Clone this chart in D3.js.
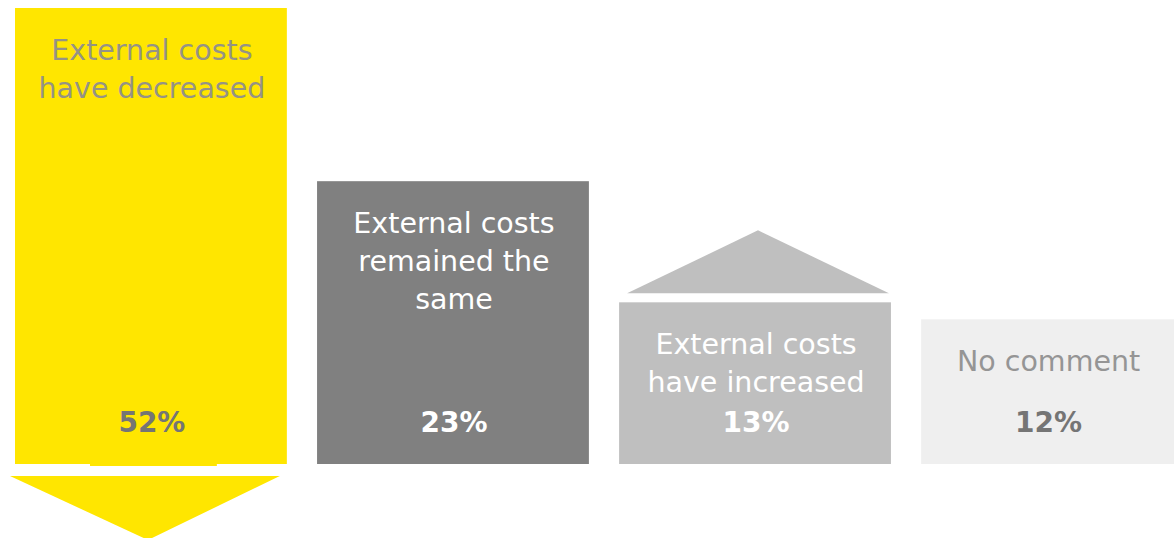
<!DOCTYPE html>
<html>
<head>
<meta charset="utf-8">
<script src="https://cdn.jsdelivr.net/npm/d3@7"></script>
<style>
  html, body { margin: 0; padding: 0; background: #ffffff; }
  svg { display: block; }
</style>
</head>
<body>
<div id="chart"></div>
<script>
// Survey answers: how external costs developed
const categories = ["decreased", "same", "increased", "nocomment"];
const labels = [
  ["External costs", "have decreased"],
  ["External costs", "remained the", "same"],
  ["External costs", "have increased"],
  ["No comment"]
];
const values = [52, 23, 13, 12];
const trend = ["down", "none", "up", "none"];

const fills = ["#ffe600", "#808080", "#bfbfbf", "#efefef"];
const labelColors = ["#959385", "#ffffff", "#ffffff", "#959595"];
const valueColors = ["#757575", "#ffffff", "#ffffff", "#757575"];

const W = 1174, H = 538;
const baseY = 464, topY = 8;

const svg = d3.select("#chart").append("svg")
  .attr("width", W).attr("height", H);

const x = d3.scaleBand()
  .domain(categories)
  .range([15, 1193])
  .paddingInner(0.1)
  .paddingOuter(0);

// bar heights on a logarithmic scale
const y = d3.scaleLog()
  .domain([6.07, 52])
  .range([baseY, topY]);

// horizontal centre of the visible part of a bar
const cxOf = c => (x(c) + Math.min(x(c) + x.bandwidth(), W)) / 2 + 1;

const fontFamily = "'DejaVu Sans', sans-serif";

const g = svg.selectAll("g.bar")
  .data(categories.map((c, i) => ({ c, i, v: values[i], lines: labels[i], t: trend[i] })))
  .join("g").attr("class", "bar");

g.append("rect")
  .attr("x", d => x(d.c))
  .attr("y", d => y(d.v))
  .attr("width", x.bandwidth())
  .attr("height", d => baseY - y(d.v))
  .attr("fill", d => fills[d.i]);

// downward arrow beneath the "decreased" bar
const down = g.filter(d => d.t === "down");
down.append("rect")
  .attr("x", d => x(d.c) + 75)
  .attr("y", baseY)
  .attr("width", x.bandwidth() - 145)
  .attr("height", 2)
  .attr("fill", d => fills[d.i]);
down.append("path")
  .attr("fill", d => fills[d.i])
  .attr("d", d => {
    const x0 = x(d.c) - 5, x1 = x(d.c) + x.bandwidth() - 7;
    const cx = x(d.c) + x.bandwidth() / 2 - 3;
    return `M${x0},${baseY + 12}L${x1},${baseY + 12}L${cx},${baseY + 76}Z`;
  });

// roof-shaped arrow above the "increased" bar
g.filter(d => d.t === "up").append("path")
  .attr("fill", d => fills[d.i])
  .attr("d", d => {
    const top = y(d.v);
    const x0 = x(d.c) + 8, x1 = x(d.c) + x.bandwidth() - 2;
    const cx = x(d.c) + x.bandwidth() / 2 + 3;
    return `M${x0},${top - 9}L${x1},${top - 9}L${cx},${top - 72}Z`;
  });

// category text
g.append("text")
  .attr("text-anchor", "middle")
  .attr("font-family", fontFamily)
  .attr("font-size", 28.5)
  .attr("fill", d => labelColors[d.i])
  .selectAll("tspan")
  .data(d => d.lines.map((l, k) => ({ l, k, d })))
  .join("tspan")
  .attr("x", e => cxOf(e.d.c))
  .attr("y", e => y(e.d.v) + 52 + e.k * 38)
  .text(e => e.l);

// percentage values
g.append("text")
  .attr("text-anchor", "middle")
  .attr("font-family", fontFamily)
  .attr("font-weight", "bold")
  .attr("font-size", 28)
  .attr("fill", d => valueColors[d.i])
  .attr("x", d => cxOf(d.c))
  .attr("y", baseY - 32)
  .text(d => d.v + "%");
</script>
</body>
</html>
